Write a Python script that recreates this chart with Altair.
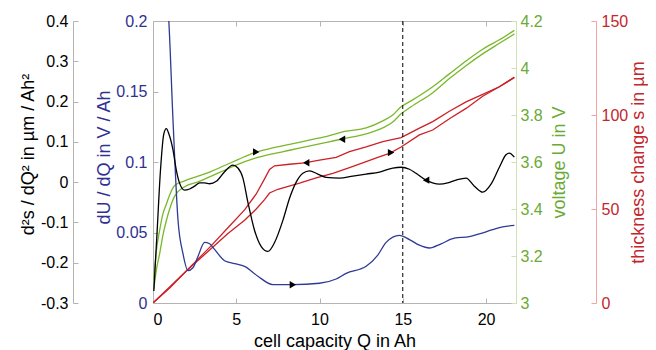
import altair as alt
import pandas as pd

# ---------------- data ----------------
# second derivative of thickness d2s/dQ2 (black, left outer axis)
q_d2s = [0.05, 0.25, 0.45, 0.65, 0.8, 0.95, 1.2, 1.4, 1.6, 1.9, 2.2, 2.5, 2.8, 3.1, 3.4, 3.8,
         4.3, 4.8, 5.1, 5.4, 5.7, 6.1, 6.5, 6.9, 7.3, 7.8, 8.2, 8.6, 9.0, 9.4, 9.9, 10.4,
         11.2, 12.0, 12.8, 13.6, 14.4, 14.9, 15.4, 15.8, 16.4, 17.2, 17.7, 18.2, 18.8,
         19.3, 19.8, 20.3, 20.8, 21.2, 21.4, 21.7]
d2s = [-0.27, -0.12, 0.03, 0.12, 0.133, 0.12, 0.08, 0.03, -0.003, -0.02, -0.017, -0.01,
       -0.002, -0.002, -0.004, 0.002, 0.026, 0.042, 0.035, 0.01, -0.05, -0.12, -0.16, -0.172,
       -0.15, -0.095, -0.04, 0.0, 0.022, 0.028, 0.02, 0.012, 0.01, 0.015, 0.02, 0.025, 0.035,
       0.037, 0.032, 0.022, 0.005, -0.005, -0.002, 0.005, 0.01, -0.01, -0.025, -0.005, 0.037,
       0.068, 0.072, 0.062]

# differential voltage dU/dQ (blue, left inner axis)
q_dudq = [0.7, 0.95, 1.2, 1.5, 1.8, 2.1, 2.4, 2.7, 3.1, 3.4, 3.7, 4.3, 4.9, 5.5, 6.3, 7.2,
          8.4, 10.0, 11.0, 11.6, 12.8, 13.5, 14.0, 14.8, 15.4, 16.0, 16.6, 17.3, 18.1, 19.0,
          19.6, 20.4, 21.0, 21.7]
dudq = [0.235, 0.2, 0.13, 0.059, 0.035, 0.023, 0.025, 0.033, 0.043, 0.042, 0.038, 0.030,
        0.028, 0.026, 0.019, 0.013, 0.013, 0.014, 0.017, 0.021, 0.026, 0.034, 0.043, 0.048,
        0.045, 0.041, 0.039, 0.042, 0.046, 0.047, 0.049, 0.052, 0.054, 0.055]

# voltage U (green, right inner axis): charge (upper) and discharge (lower)
q_u = [0.05, 0.2, 0.4, 0.6, 0.8, 1.0, 1.3, 1.9, 2.7, 3.5, 4.3, 5.1, 6.1, 7.2, 8.2, 9.5,
       10.5, 11.5, 12.8, 13.8, 14.4, 14.9, 15.5, 16.8, 17.8, 18.8, 19.8, 20.8, 21.7]
u_charge = [3.10, 3.22, 3.31, 3.38, 3.42, 3.46, 3.50, 3.52, 3.54, 3.56, 3.585, 3.61, 3.64,
            3.66, 3.675, 3.695, 3.71, 3.73, 3.745, 3.775, 3.80, 3.835, 3.86, 3.92, 3.975,
            4.03, 4.08, 4.12, 4.16]
u_discharge = [3.06, 3.14, 3.21, 3.29, 3.35, 3.40, 3.455, 3.495, 3.515, 3.54, 3.565, 3.59,
               3.615, 3.635, 3.65, 3.67, 3.685, 3.70, 3.72, 3.745, 3.77, 3.805, 3.835, 3.895,
               3.955, 4.01, 4.06, 4.105, 4.145]

# thickness change s (red, right outer axis)
q_s_dis = [0, 1, 2, 3, 3.5, 4.5, 5.5, 6.2, 6.7, 7.0, 7.3, 8.2, 9.1, 10.0, 11.0, 11.8, 12.8,
           13.8, 14.9, 16.0, 16.8, 17.8, 18.8, 19.8, 20.8, 21.7]
s_dis = [0, 8, 17, 26, 30.5, 40, 49.5, 58, 66, 71, 73, 73.8, 74.5, 76, 77.5, 80.5, 83, 85.8,
         88, 93, 96.5, 102, 107, 111, 115, 120]
q_s_ch = [0, 1, 2, 3, 3.5, 4.5, 5.5, 6.2, 6.7, 7.0, 7.5, 8.8, 9.8, 10.8, 11.8, 12.8, 13.5,
          14.2, 14.9, 16.0, 16.8, 17.8, 18.8, 19.8, 20.8, 21.7]
s_ch = [0, 8.5, 17, 25, 29, 37, 44, 50, 55, 58.5, 60.5, 63.7, 66.5, 69, 72, 75.2, 77.5, 79.6,
        83, 89.4, 92, 98, 103.5, 110, 115, 120]

# direction arrows
arrow_black = {"q": [16.4], "v": [0.005]}
arrow_blue = {"q": [8.4], "v": [0.013]}
arrow_green_right = {"q": [6.2], "v": [3.643]}
arrow_green_left = {"q": [11.35], "v": [3.697]}
arrow_red_left = {"q": [9.2], "v": [74.6]}
arrow_red_right = {"q": [14.3], "v": [80.0]}

marker_q = [15]

# ---------------- styling ----------------
GRAY = "#b4b4b4"
BLUE = "#2e3a94"
BLUE_TXT = "#2e3192"
GREEN = "#78b82a"
GREEN_TXT = "#6aaa35"
GREEN_AX = "#cde3b5"
RED = "#cc2027"
RED_TXT = "#c1272d"
RED_AX = "#f5a3a3"
XDOM = [0, 21.8]
FONT = "Liberation Sans"


def xenc(axis):
    return alt.X("q:Q", scale=alt.Scale(domain=XDOM, nice=False, zero=False), axis=axis)


def tick_axis(orient, offset, values, color):
    return alt.Axis(orient=orient, offset=offset, tickSize=5, values=values, labels=False,
                    domain=False, title=None, tickColor=color, grid=False)


# ----- black: d2s/dQ2 -----
ysc_black = alt.Scale(domain=[-0.3, 0.4], nice=False, zero=False)
vals_black = [-0.3, -0.2, -0.1, 0, 0.1, 0.2, 0.3, 0.4]
df_black = pd.DataFrame({"q": q_d2s, "v": d2s})
black_line = alt.Chart(df_black).mark_line(
    color="black", strokeWidth=1.3, clip=True, interpolate="monotone"
).encode(
    x=xenc(alt.Axis(orient="bottom", values=[0, 5, 10, 15, 20], ticks=False, tickSize=0,
                    domainColor=GRAY, labelPadding=8, labelColor="black",
                    title="cell capacity Q in Ah", titleColor="black", titleY=38,
                    titleBaseline="middle", titleAlign="center")),
    y=alt.Y("v:Q", scale=ysc_black,
            axis=alt.Axis(orient="left", offset=80, values=vals_black,
                          labelExpr="toString(round(datum.value*10)/10)",
                          ticks=False, tickSize=0, domainColor=GRAY, labelPadding=5,
                          labelColor="black", title="d²s / dQ² in µm / Ah²",
                          titleColor="black", titleAngle=270, titleX=-45, titleY=133,
                          titleBaseline="middle", titleAlign="center")),
)
black_arrow = alt.Chart(pd.DataFrame(arrow_black)).mark_point(
    shape="triangle-left", filled=True, color="black", size=55, opacity=1
).encode(
    x=xenc(tick_axis("bottom", -5, [5, 10, 15, 20], GRAY)),
    y=alt.Y("v:Q", scale=ysc_black, axis=tick_axis("left", 75, vals_black, GRAY)),
)
black = alt.layer(black_line, black_arrow).resolve_axis(x="independent", y="independent")

# ----- blue: dU/dQ -----
ysc_blue = alt.Scale(domain=[0, 0.2], nice=False, zero=False)
vals_blue = [0, 0.05, 0.1, 0.15, 0.2]
df_blue = pd.DataFrame({"q": q_dudq, "v": dudq})
blue_line = alt.Chart(df_blue).mark_line(
    color=BLUE, strokeWidth=1.3, clip=True, interpolate="monotone"
).encode(
    x=xenc(None),
    y=alt.Y("v:Q", scale=ysc_blue,
            axis=alt.Axis(orient="left", offset=0, values=vals_blue, format="~g",
                          ticks=False, tickSize=0, domainColor=GRAY, labelPadding=6,
                          labelColor=BLUE_TXT, title="dU / dQ in V / Ah",
                          titleColor=BLUE_TXT, titleAngle=270, titleX=-49, titleY=136,
                          titleBaseline="middle", titleAlign="center")),
)
blue_arrow = alt.Chart(pd.DataFrame(arrow_blue)).mark_point(
    shape="triangle-right", filled=True, color="black", size=55, opacity=1
).encode(
    x=xenc(tick_axis("top", -5, [5, 10, 15, 20], GRAY)),
    y=alt.Y("v:Q", scale=ysc_blue, axis=tick_axis("left", -5, vals_blue, GRAY)),
)
blue = alt.layer(blue_line, blue_arrow).resolve_axis(x="independent", y="independent")

# ----- green: voltage -----
ysc_green = alt.Scale(domain=[3, 4.2], nice=False, zero=False)
vals_green = [3, 3.2, 3.4, 3.6, 3.8, 4, 4.2]
df_green = pd.concat([
    pd.DataFrame({"q": q_u, "v": u_charge, "branch": "charge"}),
    pd.DataFrame({"q": q_u, "v": u_discharge, "branch": "discharge"}),
])
green_line = alt.Chart(df_green).mark_line(
    color=GREEN, strokeWidth=1.3, clip=True, interpolate="monotone"
).encode(
    x=xenc(None),
    y=alt.Y("v:Q", scale=ysc_green,
            axis=alt.Axis(orient="right", offset=0, values=vals_green, format="~g",
                          ticks=False, tickSize=0, domainColor=GREEN_AX, labelPadding=4,
                          labelColor=GREEN_TXT, title="voltage U in V",
                          titleColor=GREEN_TXT, titleAngle=270, titleX=43, titleY=141,
                          titleBaseline="middle", titleAlign="center")),
    detail="branch:N",
)
df_garrow = pd.concat([
    pd.DataFrame({**arrow_green_right, "dir": "right"}),
    pd.DataFrame({**arrow_green_left, "dir": "left"}),
])
green_arrow = alt.Chart(df_garrow).mark_point(
    filled=True, color="black", size=55, opacity=1
).encode(
    x=xenc(None),
    y=alt.Y("v:Q", scale=ysc_green, axis=tick_axis("right", -5, vals_green, GREEN_AX)),
    shape=alt.Shape("dir:N", scale=alt.Scale(domain=["right", "left"],
                                             range=["triangle-right", "triangle-left"]),
                    legend=None),
)
green = alt.layer(green_line, green_arrow).resolve_axis(x="independent", y="independent")

# ----- red: thickness change -----
ysc_red = alt.Scale(domain=[0, 150], nice=False, zero=False)
vals_red = [0, 50, 100, 150]
df_red = pd.concat([
    pd.DataFrame({"q": q_s_dis, "v": s_dis, "branch": "discharge"}),
    pd.DataFrame({"q": q_s_ch, "v": s_ch, "branch": "charge"}),
])
red_line = alt.Chart(df_red).mark_line(
    color=RED, strokeWidth=1.3, clip=True
).encode(
    x=xenc(None),
    y=alt.Y("v:Q", scale=ysc_red,
            axis=alt.Axis(orient="right", offset=80, values=vals_red, format="d",
                          ticks=False, tickSize=0, domainColor=RED_AX, labelPadding=5,
                          labelColor=RED_TXT, title="thickness change s in µm",
                          titleColor=RED_TXT, titleAngle=270, titleX=42, titleY=141,
                          titleBaseline="middle", titleAlign="center")),
    detail="branch:N",
)
df_rarrow = pd.concat([
    pd.DataFrame({**arrow_red_left, "dir": "left"}),
    pd.DataFrame({**arrow_red_right, "dir": "right"}),
])
red_arrow = alt.Chart(df_rarrow).mark_point(
    filled=True, color="black", size=55, opacity=1
).encode(
    x=xenc(None),
    y=alt.Y("v:Q", scale=ysc_red, axis=tick_axis("right", 75, vals_red, RED_AX)),
    shape=alt.Shape("dir:N", scale=alt.Scale(domain=["right", "left"],
                                             range=["triangle-right", "triangle-left"]),
                    legend=None),
)
red = alt.layer(red_line, red_arrow).resolve_axis(x="independent", y="independent")

# ----- dashed marker at Q = 15 -----
rule = alt.Chart(pd.DataFrame({"q": marker_q})).mark_rule(
    color="black", strokeDash=[4, 3], strokeWidth=1
).encode(x=xenc(None))

chart = alt.layer(red, green, blue, black, rule).resolve_scale(
    y="independent", shape="independent"
).resolve_axis(
    x="independent", y="independent"
).properties(
    width=363, height=282,
    autosize=alt.AutoSizeParams(type="none"),
    padding={"left": 145, "top": 13, "right": 132, "bottom": 47},
).configure_axis(
    labelFont=FONT, titleFont=FONT, labelFontSize=16, titleFontSize=18,
    titleFontWeight="normal", grid=False,
).configure_view(stroke=GRAY)

chart.save("out.html", embed_options={"renderer": "svg", "actions": False})
